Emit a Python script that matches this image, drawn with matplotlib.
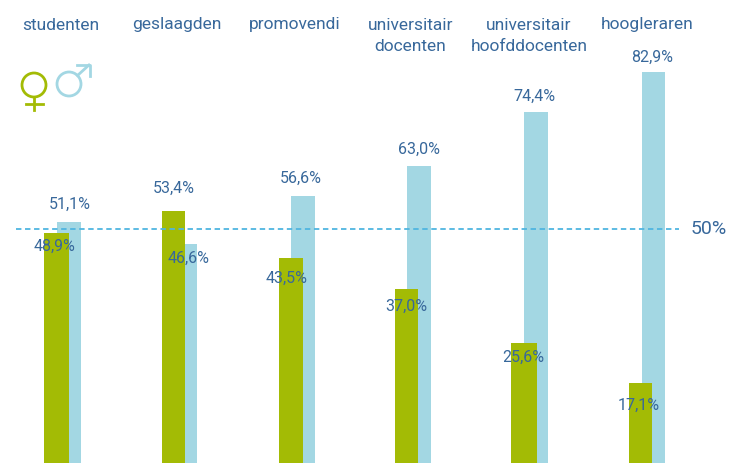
import matplotlib
matplotlib.use("Agg")
import matplotlib.pyplot as plt
from matplotlib.patches import Circle

categories = ['studenten', 'geslaagden', 'promovendi', 'universitair\ndocenten',
              'universitair\nhoofddocenten', 'hoogleraren']
vrouw = [48.9, 53.4, 43.5, 37.0, 25.6, 17.1]
man = [51.1, 46.6, 56.6, 63.0, 74.4, 82.9]
vrouw_labels = ['48,9%', '53,4%', '43,5%', '37,0%', '25,6%', '17,1%']
man_labels = ['51,1%', '46,6%', '56,6%', '63,0%', '74,4%', '82,9%']

# layout, all in pixels of the 732x463 picture
vrouw_x = [56.5, 173.3, 290.7, 406.5, 524, 640.5]
vrouw_w = [24.4, 22.6, 24, 23, 26.3, 23.4]
man_x = [69, 184.7, 302.7, 419, 535.7, 653.3]
man_w = [23.4, 24, 24, 23.4, 24, 23.3]
cat_x = [60.5, 177, 295, 410.5, 529, 647]
vrouw_lab_pos = [(54, 246), (174, 188), (287, 278), (406, 306), (523, 357), (639, 405)]
man_lab_pos = [(70, 204), (189, 258), (301, 178), (419, 149), (534, 96), (652, 57)]

GREEN = '#a3bb05'
BLUE = '#a3d7e3'
TEXT = '#38689b'
LINE = '#4fb5e0'


def put(x, y, s, **kw):
    fig.text(x / 732, 1 - y / 463, s, ha='center', va='center', family='Roboto', **kw)


fig = plt.figure(figsize=(7.32, 4.63), dpi=100)
ax = fig.add_axes([0, 0, 1, 1])
ax.set_xlim(0, 732)
ax.set_ylim((464 - 463) / 4.73, 464 / 4.73)
ax.axis('off')

ax.bar(man_x, man, width=man_w, color=BLUE, zorder=1)
ax.bar(vrouw_x, vrouw, width=vrouw_w, color=GREEN, zorder=2)
ax.hlines(49.7, 16, 679, color=LINE, linewidth=1.3, linestyles=(0, (3, 2)), zorder=3)

for x, c in zip(cat_x, categories):
    fig.text(x / 732, 1 - 17.5 / 463, c, ha='center', va='top', color=TEXT,
             fontsize=12.5, linespacing=1.55, family='Roboto')
for (x, y), s in zip(vrouw_lab_pos, vrouw_labels):
    put(x, y, s, color=TEXT, fontsize=11.5)
for (x, y), s in zip(man_lab_pos, man_labels):
    put(x, y, s, color=TEXT, fontsize=11.5)
put(709, 229, '50%', color=TEXT, fontsize=14)

# gender icons, drawn in pixel coordinates
icons = fig.add_axes([0, 0, 1, 1])
icons.set_xlim(0, 732)
icons.set_ylim(463, 0)
icons.axis('off')
icons.patch.set_alpha(0)
icons.add_patch(Circle((34, 85), 12, fill=False, ec=GREEN, lw=2))
icons.plot([34, 34], [97, 110], color=GREEN, lw=2)
icons.plot([26, 43], [103.5, 103.5], color=GREEN, lw=2)
icons.add_patch(Circle((69, 84), 12, fill=False, ec=BLUE, lw=2))
icons.plot([77.5, 89], [75.5, 65], color=BLUE, lw=2)
icons.plot([77, 89.5, 89.5], [65, 65, 76], color=BLUE, lw=2)

fig.savefig('out.png', dpi=100)
